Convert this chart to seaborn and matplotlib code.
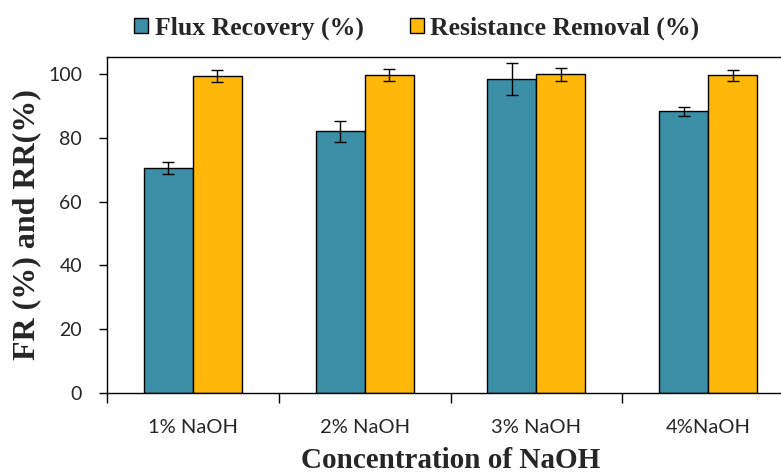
import matplotlib
matplotlib.use("Agg")
import matplotlib.pyplot as plt
import seaborn as sns
import pandas as pd

# Values
concentrations = ["1% NaOH", "2% NaOH", "3% NaOH", "4%NaOH"]
flux_recovery = [70.4, 82.0, 98.4, 88.3]
flux_recovery_err = [1.9, 3.2, 5.0, 1.4]
resistance_removal = [99.3, 99.7, 99.9, 99.6]
resistance_removal_err = [1.8, 1.9, 2.0, 1.7]
series_names = ["Flux Recovery (%)", "Resistance Removal (%)"]
y_ticks = [0, 20, 40, 60, 80, 100]

df = pd.DataFrame({
    "conc": concentrations * 2,
    "value": flux_recovery + resistance_removal,
    "err": flux_recovery_err + resistance_removal_err,
    "series": [series_names[0]] * 4 + [series_names[1]] * 4,
})

sns.set_theme(style="white")
plt.rcParams["font.family"] = ["Lato", "DejaVu Sans"]

fig = plt.figure(figsize=(7.81, 4.76), dpi=100)
ax = fig.add_axes([107 / 781, 83 / 476, 687 / 781, 336 / 476])

palette = {series_names[0]: "#3A8FA7", series_names[1]: "#FFB70A"}
sns.barplot(data=df, x="conc", y="value", hue="series", palette=palette,
            width=0.57, edgecolor="black", linewidth=1.0, saturation=1,
            errorbar=None, ax=ax)

# error bars on the bar centres seaborn placed
bars = [p for p in ax.patches if p.get_height() > 0][:8]
bars = sorted(bars, key=lambda p: (p.get_facecolor()[0] > 0.5, p.get_x()))
for p, err in zip(bars, df["err"]):
    ax.errorbar(p.get_x() + p.get_width() / 2, p.get_height(), yerr=err,
                color="black", capsize=4, elinewidth=1.0, capthick=1.0, fmt="none")

ax.set_ylim(0, 105.3)
ax.set_xlim(-0.5, 3.5)
ax.set_yticks(y_ticks)
ax.tick_params(axis="y", which="major", direction="out", length=6, width=1,
               color="black", left=True, labelsize=14, pad=12)
ax.tick_params(axis="x", which="major", length=0, labelsize=14.5, pad=19)
ax.set_xticks([-0.5, 0.5, 1.5, 2.5], minor=True)
ax.tick_params(axis="x", which="minor", direction="out", length=7, width=1,
               color="black", bottom=True)

for s in ax.spines.values():
    s.set_color("black")
    s.set_linewidth(1.0)

ax.set_xlabel("Concentration of NaOH", family="Liberation Serif", weight="bold",
              fontsize=21, labelpad=8)
ax.set_ylabel("FR (%) and RR(%)", family="Liberation Serif", weight="bold",
              fontsize=23, labelpad=5)

leg = ax.legend(loc="center", bbox_to_anchor=(0.451, 1.086), ncol=2, frameon=False,
                prop={"family": "Liberation Serif", "weight": "bold", "size": 18.5},
                handlelength=0.55, handleheight=0.55, handletextpad=0.25,
                columnspacing=1.8, borderaxespad=0)

fig.savefig("out.png", dpi=100)
